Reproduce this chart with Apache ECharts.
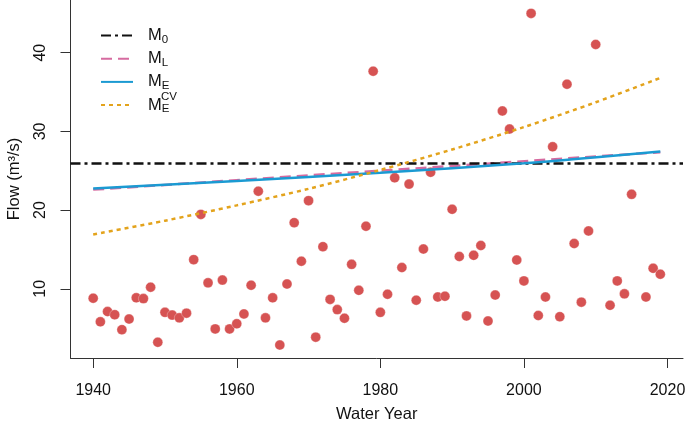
<!DOCTYPE html>
<html>
<head>
<meta charset="utf-8">
<script src="https://cdn.jsdelivr.net/npm/echarts@6/dist/echarts.min.js"></script>
<style>
html,body{margin:0;padding:0;background:#fff;}
#chart{width:685px;height:421px;}
</style>
</head>
<body>
<div id="chart"></div>
<script>
// ---- data ----
var years = [1940,1941,1942,1943,1944,1945,1946,1947,1948,1949,
             1950,1951,1952,1953,1954,1955,1956,1957,1958,1959,
             1960,1961,1962,1963,1964,1965,1966,1967,1968,1969,
             1970,1971,1972,1973,1974,1975,1976,1977,1978,1979,
             1980,1981,1982,1983,1984,1985,1986,1987,1988,1989,
             1990,1991,1992,1993,1994,1995,1996,1997,1998,1999,
             2000,2001,2002,2003,2004,2005,2006,2007,2008,2009,
             2010,2012,2013,2014,2015,2017,2018,2019];
var flows = [8.8,5.8,7.1,6.7,4.8,6.15,8.85,8.75,10.2,3.2,
             7.0,6.65,6.3,6.9,13.7,19.45,10.75,4.9,11.1,4.9,
             5.55,6.8,10.45,22.4,6.3,8.85,2.85,10.6,18.4,13.5,
             21.2,3.85,15.35,8.65,7.35,6.25,13.1,9.8,17.95,37.65,
             7.0,9.3,24.1,12.7,23.3,8.55,15.05,24.8,8.95,9.05,
             20.1,14.1,6.55,14.25,15.5,5.9,9.2,32.6,30.3,13.65,
             11.0,45.0,6.6,8.95,28.05,6.45,36.0,15.75,8.3,17.35,
             41.05,7.9,11.0,9.35,22.0,8.95,12.6,11.85];

var m0Value = 26.0;
var mlYears = [1940, 2019];
var mlValues = [22.6, 27.35];
var meYears = [1940, 1960, 1980, 2000, 2019];
var meValues = [22.75, 23.7, 24.75, 25.95, 27.45];
var mecvYears = [1940, 1950, 1960, 1970, 1980, 1990, 2000, 2010, 2019];
var mecvValues = [16.9, 18.65, 20.6, 22.7, 25.1, 27.7, 30.55, 33.7, 36.8];

var xTicks = [1940, 1960, 1980, 2000, 2020];
var yTicks = [10, 20, 30, 40];

function zip(a, b) { return a.map(function (v, i) { return [v, b[i]]; }); }

var font = 'Liberation Sans, Arial, Helvetica, sans-serif';
var axisColor = '#333';

var chart = echarts.init(document.getElementById('chart'), null, {renderer: 'canvas'});
chart.setOption({
  animation: false,
  backgroundColor: '#fff',
  grid: {left: 70.5, right: 2, top: 0, bottom: 63, containLabel: false, outerBoundsMode: 'none'},
  xAxis: {
    type: 'value', min: 1936.84, max: 2022.16,
    name: 'Water Year', nameLocation: 'middle', nameGap: 48,
    nameTextStyle: {fontFamily: font, fontSize: 16.5, color: '#111'},
    axisLine: {show: true, onZero: false, lineStyle: {color: axisColor, width: 1}},
    axisTick: {show: true, length: 10, customValues: xTicks, lineStyle: {color: axisColor}},
    axisLabel: {show: true, customValues: xTicks, margin: 25, fontFamily: font, fontSize: 16, color: '#111',
                hideOverlap: false, formatter: function (v) { return String(v); }},
    splitLine: {show: false}
  },
  yAxis: {
    type: 'value', min: 1.2, max: 46.7,
    name: 'Flow (m³/s)', nameLocation: 'middle', nameGap: 48, nameRotate: 90,
    nameTextStyle: {fontFamily: font, fontSize: 16.5, color: '#111'},
    axisLine: {show: true, onZero: false, lineStyle: {color: axisColor, width: 1}},
    axisTick: {show: true, length: 10, customValues: yTicks, lineStyle: {color: axisColor}},
    axisLabel: {show: true, customValues: yTicks, rotate: 90, margin: 22, fontFamily: font, fontSize: 16, color: '#111',
                formatter: function (v) { return String(v); }},
    splitLine: {show: false}
  },
  legend: {
    orient: 'vertical', left: 100, top: 27, padding: 0,
    itemWidth: 32, itemHeight: 14, itemGap: 4.7,
    data: ['M0', 'ML', 'ME', 'MECV'],
    itemStyle: {color: 'rgba(0,0,0,0)', borderColor: 'rgba(0,0,0,0)', borderWidth: 0, opacity: 0},
    formatter: function (name) {
      var sub = {M0: '0', ML: 'L', ME: 'E', MECV: 'E'}[name];
      return '{m|M}{s|' + sub + '}';
    },
    textStyle: {
      fontFamily: font, color: '#111', padding: [0, 0, 0, 10],
      rich: {
        m: {fontFamily: font, fontSize: 16.5, lineHeight: 20, verticalAlign: 'middle', color: '#111'},
        s: {fontFamily: font, fontSize: 11.5, lineHeight: 10, verticalAlign: 'bottom', color: '#111'}
      }
    }
  },
  graphic: [{
    type: 'text', left: 161, top: 91,
    style: {text: 'CV', fontFamily: font, fontSize: 11.5, fill: '#111'}
  }],
  series: [
    {
      name: 'Flow', type: 'scatter', data: zip(years, flows), symbolSize: 10,
      itemStyle: {color: '#d65353', borderColor: 'rgba(255,255,255,0.5)', borderWidth: 0.6, opacity: 1},
      z: 2
    },
    {
      name: 'M0', type: 'line', data: [], symbol: 'none',
      lineStyle: {color: '#111', width: 2.5, type: [10, 4, 3, 4]},
      itemStyle: {color: '#111'},
      markLine: {
        silent: true, symbol: 'none', label: {show: false},
        lineStyle: {color: '#111', width: 2.5, type: [10, 4, 3, 4]},
        data: [{yAxis: m0Value}]
      },
      z: 3
    },
    {
      name: 'ML', type: 'line', data: zip(mlYears, mlValues), symbol: 'none', showSymbol: false,
      lineStyle: {color: '#d66ba0', width: 2.5, type: [11, 6]},
      itemStyle: {color: '#d66ba0'}, z: 4
    },
    {
      name: 'ME', type: 'line', data: zip(meYears, meValues), symbol: 'none', showSymbol: false, smooth: 0.3,
      lineStyle: {color: '#1b9ad2', width: 2.6, type: 'solid'},
      itemStyle: {color: '#1b9ad2'}, z: 5
    },
    {
      name: 'MECV', type: 'line', data: zip(mecvYears, mecvValues), symbol: 'none', showSymbol: false, smooth: 0.3,
      lineStyle: {color: '#e3a31c', width: 2.5, type: [4, 4]},
      itemStyle: {color: '#e3a31c'}, z: 6
    }
  ]
});
</script>
</body>
</html>
